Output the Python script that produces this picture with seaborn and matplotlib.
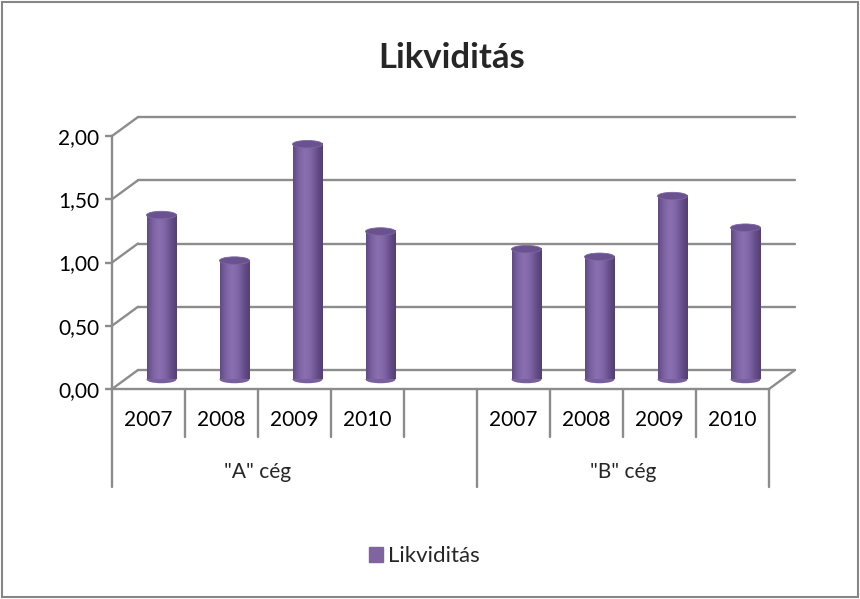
import numpy as np
import pandas as pd
import seaborn as sns
import matplotlib
matplotlib.use("Agg")
import matplotlib.pyplot as plt
from matplotlib.patches import Rectangle, Ellipse
from matplotlib.colors import LinearSegmentedColormap
from matplotlib.ticker import FuncFormatter

# data
companies = ['"A" cég', '"B" cég']
years = ["2007", "2008", "2009", "2010"]
values_a = [1.30, 0.94, 1.86, 1.17]
values_b = [1.03, 0.97, 1.45, 1.20]
series_name = "Likviditás"
y_ticks = [0.0, 0.5, 1.0, 1.5, 2.0]

# one slot per bar, plus an empty slot between the two companies
keys = [f"A {y}" for y in years] + [f"B {y}" for y in years]
order = keys[:4] + ["gap"] + keys[4:]
df = pd.DataFrame({"key": keys, "value": values_a + values_b})

sns.set_style("white")
plt.rcParams["font.family"] = ["Lato", "DejaVu Sans"]

grid_col = "#8c8c8c"
bar_col = "#8064a2"

fig = plt.figure(figsize=(8.6, 5.99), dpi=100)
# front plane of the pseudo 3d box (pixels: x 112..769, y 136..389)
ax = fig.add_axes([112 / 860, (599 - 389) / 599, 657 / 860, 253 / 599])

sns.barplot(data=df, x="key", y="value", order=order, color=bar_col,
            width=0.41, ax=ax, zorder=3, saturation=1)

ax.set_xlim(-0.5, 8.5)
ax.set_ylim(0, 2)

# depth offset of the back wall, in data units
DX = 26 / (657 / 9)
DY = 19 / (253 / 2)

# back wall gridlines and side diagonals
for v in y_ticks:
    ax.plot([-0.5 + DX, 8.5 + DX], [v + DY, v + DY], color=grid_col, lw=1.7,
            zorder=1, clip_on=False)
    ax.plot([-0.5, -0.5 + DX], [v, v + DY], color=grid_col, lw=1.7,
            zorder=1, clip_on=False)
ax.plot([8.5, 8.5 + DX], [0, DY], color=grid_col, lw=1.7, zorder=1, clip_on=False)

# cylinder look: gradient body + elliptic caps
cyl = LinearSegmentedColormap.from_list(
    "cyl", ["#604a83", "#7e63a4", "#8b70b1", "#8166a7", "#684f8c", "#533f71"])
grad = np.linspace(0, 1, 64).reshape(1, -1)
cap_h = 7.5 / (253 / 2)
for p in list(ax.patches):
    x, w, h = p.get_x(), p.get_width(), p.get_height()
    if h <= 0:
        continue
    x0 = x + DX / 2
    y0 = DY / 2
    p.set_visible(False)
    cx = x0 + w / 2
    ax.add_patch(Ellipse((cx, y0), w, cap_h, facecolor="#7a5f9f",
                         edgecolor="none", zorder=3, clip_on=False))
    ax.imshow(grad, extent=[x0, x0 + w, y0, y0 + h], aspect="auto", cmap=cyl,
              zorder=3.5, interpolation="bicubic", clip_on=False)
    ax.add_patch(Ellipse((cx, y0 + h), w, cap_h, facecolor="#6a5290",
                         edgecolor="#7d66a0", lw=0.6, zorder=4, clip_on=False))

ax.set_xlim(-0.5, 8.5)
ax.set_ylim(0, 2)

# axes styling
for side in ["top", "right"]:
    ax.spines[side].set_visible(False)
for side in ["left", "bottom"]:
    ax.spines[side].set_color(grid_col)
    ax.spines[side].set_linewidth(1.7)
ax.set_yticks(y_ticks)
ax.yaxis.set_major_formatter(FuncFormatter(lambda v, _: f"{v:.2f}".replace(".", ",")))
ax.tick_params(axis="y", left=True, length=5, width=1.7, color=grid_col,
               pad=4, labelsize=15, labelcolor="black")
ax.set_xticks([])
ax.set_xlabel("")
ax.set_ylabel("")

# multi level category axis below the floor
tr = ax.get_xaxis_transform()
for i, k in enumerate(order):
    if k == "gap":
        continue
    ax.text(i, -0.1225, k.split()[1], transform=tr, ha="center", va="center",
            fontsize=15, color="black")
for xb in [0.5, 1.5, 2.5, 3.5, 5.5, 6.5, 7.5]:
    ax.plot([xb, xb], [0, -0.19], transform=tr, color=grid_col, lw=1.7, clip_on=False)
for xb in [-0.5, 4.5, 8.5]:
    ax.plot([xb, xb], [0, -0.387], transform=tr, color=grid_col, lw=1.7, clip_on=False)
ax.text(1.5, -0.328, companies[0], transform=tr, ha="center", va="center", fontsize=15)
ax.text(6.5, -0.328, companies[1], transform=tr, ha="center", va="center", fontsize=15)

# title and legend
fig.text(452 / 860, 1 - 58 / 599, series_name, ha="center", va="center",
         fontsize=25, fontweight="bold")
handle = Rectangle((0, 0), 1, 1, color=bar_col)
fig.legend([handle], [series_name], loc="center", bbox_to_anchor=(424 / 860, 1 - 556 / 599),
           frameon=False, fontsize=16, handlelength=0.65, handleheight=0.65,
           handletextpad=0.2)

# chart area border
fig.add_artist(Rectangle((0.002, 0.003), 0.996, 0.994, transform=fig.transFigure,
                         fill=False, edgecolor="#868686", lw=1.5))

fig.savefig("out.png", dpi=100)
